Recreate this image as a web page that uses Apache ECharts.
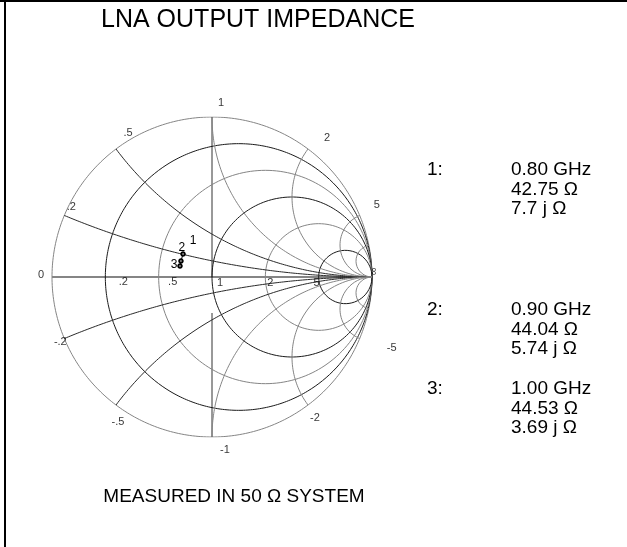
<!DOCTYPE html>
<html>
<head>
<meta charset="utf-8">
<script src="https://cdn.jsdelivr.net/npm/echarts@6/dist/echarts.min.js"></script>
<style>
  html, body { margin: 0; padding: 0; background: #fff; }
  #main { width: 627px; height: 547px; }
</style>
</head>
<body>
<div id="main"></div>
<script>
// grid of the smith chart (normalised to 50 ohm)
const resistances = [0.2, 0.5, 1, 2, 5]
const reactances = [0.2, 0.5, 1, 2, 5, -0.2, -0.5, -1, -2, -5]
const fineReact = [10, -10]
// tick labels round the rim and on the real axis
const rimTicks = ['1', '.5', '.2', '2', '5', '-.2', '-.5', '-1', '-2', '-5']
const rimValues = [1, 0.5, 0.2, 2, 5, -0.2, -0.5, -1, -2, -5]
const axisTicks = ['0', '.2', '.5', '1', '2', '5', '∞']
const axisValues = [0, 0.2, 0.5, 1, 2, 5, Infinity]
// measured markers, reflection coefficient
const markerNames = ['1', '2', '3']
const gammaRe = [-0.181, -0.194, -0.2]
const gammaIm = [0.144, 0.1, 0.069]
// marker read-outs
const freqs = ['0.80 GHz', '0.90 GHz', '1.00 GHz']
const resist = ['42.75', '44.04', '44.53']
const react = ['7.7', '5.74', '3.69']

const FONT = '"Liberation Sans", Arial, Helvetica, sans-serif'
const DARK = '#1a1a1a'
const GRAY = '#858585'

// z -> gamma
function gammaOf(r, x) {
  if (!isFinite(r) || !isFinite(x)) return [1, 0]
  const d = (r + 1) * (r + 1) + x * x
  return [(r * r + x * x - 1) / d, 2 * x / d]
}
function resistCircle(r) {
  const c = r / (1 + r), a = 1 / (1 + r), pts = []
  for (let k = 0; k <= 360; k++) {
    const t = k * Math.PI / 180
    pts.push([c + a * Math.cos(t), a * Math.sin(t)])
  }
  return pts
}
function reactArc(x) {
  const pts = []
  for (let k = 0; k < 400; k++) {
    pts.push(gammaOf(Math.tan(k / 400 * Math.PI / 2), x))
  }
  pts.push([1, 0])
  return pts
}
function gridLine(data, color, width) {
  return {
    type: 'line', data: data, showSymbol: false, symbol: 'none', silent: true,
    lineStyle: { color: color, width: width || 1 }, z: 1
  }
}

const series = []
series.push(gridLine(resistCircle(0), GRAY))
series.push(gridLine([[-1, 0], [1, 0]], GRAY, 2))
series.push(gridLine([[0, 1], [0, 0]], '#333'))
series.push(gridLine([[0, -0.225], [0, -1]], '#333'))
resistances.forEach((r, i) => series.push(gridLine(resistCircle(r), i % 2 ? GRAY : DARK)))
reactances.forEach(x => {
  const ax = Math.abs(x)
  series.push(gridLine(reactArc(x), ax < 1 ? '#2a2a2a' : GRAY))
})
fineReact.forEach(x => series.push(gridLine(reactArc(x), GRAY)))

// rim labels
const rimOffsets = [[9, -14], [12, -16], [7, -8], [19, -11], [17, -10],
  [-4, 3], [2, 17], [13, 13], [7, 13], [32, 9]]
const axisOffsets = [[-11, -2], [18, 5], [14, 5], [8, 6], [5, 6], [-2, 6], [6, 2]]
const labelData = []
rimValues.forEach((x, i) => {
  labelData.push({
    value: gammaOf(0, x),
    label: { formatter: rimTicks[i], offset: rimOffsets[i] }
  })
})
axisValues.forEach((r, i) => {
  labelData.push({
    value: gammaOf(r, 0),
    label: { formatter: axisTicks[i], offset: axisOffsets[i], rotate: r === Infinity ? 90 : 0 }
  })
})
series.push({
  type: 'scatter', data: labelData, symbolSize: 1, silent: true, z: 3,
  itemStyle: { color: 'transparent' },
  label: { show: true, position: 'inside', color: '#000', fontSize: 11, fontFamily: FONT }
})

// measured trace
const markerOffsets = [[10, -13], [1, -13], [-6, -1]]
series.push({
  type: 'line', z: 4, silent: true,
  data: markerNames.map((n, i) => ({
    value: [gammaRe[i], gammaIm[i]],
    label: { formatter: n, offset: markerOffsets[i] }
  })),
  symbol: 'emptyCircle', symbolSize: 3.5,
  lineStyle: { color: '#000', width: 1 },
  itemStyle: { color: '#000', borderWidth: 0.8 },
  label: { show: true, position: 'inside', color: '#000', fontSize: 12, fontFamily: FONT }
})

// read-out panel text
const blockTops = [170, 310, 389]
const rowGap = 19.5
const graphic = [
  { type: 'line', shape: { x1: 0, y1: 1, x2: 627, y2: 1 }, style: { stroke: '#000', lineWidth: 2 } },
  { type: 'line', shape: { x1: 5, y1: 0, x2: 5, y2: 547 }, style: { stroke: '#000', lineWidth: 2 } },
  { type: 'text', x: 258, y: 20,
    style: { text: 'LNA OUTPUT IMPEDANCE', fill: '#000', font: '25px ' + FONT, textAlign: 'center', verticalAlign: 'middle' } },
  { type: 'text', x: 234, y: 497,
    style: { text: 'MEASURED IN 50 Ω SYSTEM', fill: '#000', font: '19px ' + FONT, textAlign: 'center', verticalAlign: 'middle' } }
]
markerNames.forEach((n, i) => {
  const y0 = blockTops[i]
  const rows = [freqs[i], resist[i] + ' Ω', react[i] + ' j Ω']
  graphic.push({ type: 'text', x: 427, y: y0,
    style: { text: n + ':', fill: '#000', font: '19px ' + FONT, verticalAlign: 'middle' } })
  rows.forEach((t, k) => {
    graphic.push({ type: 'text', x: 511, y: y0 + k * rowGap,
      style: { text: t, fill: '#000', font: '19px ' + FONT, verticalAlign: 'middle' } })
  })
})

const option = {
  animation: false,
  backgroundColor: '#fff',
  grid: { left: 52, top: 117, width: 320, height: 320 },
  xAxis: { type: 'value', min: -1, max: 1, show: false },
  yAxis: { type: 'value', min: -1, max: 1, show: false },
  series: series,
  graphic: graphic
}
echarts.init(document.getElementById('main')).setOption(option)
</script>
</body>
</html>
